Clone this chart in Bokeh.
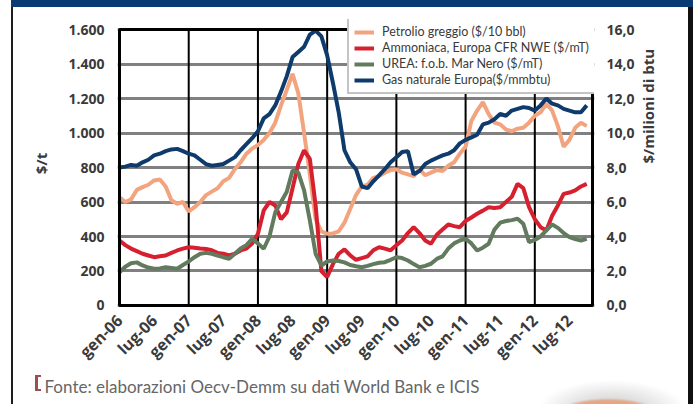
import numpy as np
from bokeh.plotting import figure
from bokeh.models import (Range1d, LinearAxis, FixedTicker, Legend, LegendItem, Title)
from bokeh.embed import file_html
from bokeh.resources import INLINE

# Monthly series, January 2006 .. October 2012
petrolio = [628, 600, 615, 670, 686, 700, 725, 730, 690, 610, 590, 600,
            545, 570, 600, 640, 660, 680, 720, 740, 790, 830, 880, 910,
            930, 960, 1000, 1060, 1160, 1250, 1343, 1230, 1000, 760, 500, 430,
            416, 418, 430, 480, 560, 640, 690, 700, 740, 750, 770, 785,
            790, 770, 760, 750, 790, 755, 770, 785, 780, 810, 830, 880,
            920, 1070, 1130, 1179, 1110, 1060, 1050, 1020, 1010, 1025, 1030, 1060,
            1100, 1120, 1170, 1130, 1040, 920, 960, 1030, 1060, 1040]
ammoniaca = [377, 350, 330, 315, 300, 290, 280, 285, 290, 305, 319, 330,
             338, 335, 330, 328, 320, 305, 300, 290, 300, 319, 330, 360,
             416, 551, 600, 580, 500, 540, 680, 820, 900, 850, 580, 200,
             165, 240, 300, 325, 290, 265, 275, 285, 320, 338, 330, 320,
             350, 377, 420, 454, 420, 377, 358, 410, 440, 470, 460, 454,
             490, 510, 532, 550, 570, 565, 570, 600, 630, 705, 680, 570,
             500, 454, 435, 520, 580, 647, 655, 667, 690, 705]
urea = [193, 225, 245, 250, 232, 220, 213, 215, 222, 218, 213, 235,
        255, 280, 300, 305, 300, 290, 280, 271, 300, 330, 350, 387,
        360, 329, 400, 540, 600, 660, 783, 770, 667, 493, 300, 232,
        255, 261, 258, 250, 235, 228, 222, 230, 240, 248, 251, 265,
        280, 275, 261, 240, 222, 230, 242, 270, 285, 330, 360, 377,
        387, 360, 319, 335, 358, 440, 480, 490, 495, 503, 474, 367,
        380, 400, 435, 470, 450, 420, 396, 385, 377, 387]
gas = [8.00, 8.05, 8.15, 8.10, 8.30, 8.45, 8.70, 8.80, 8.95, 9.05, 9.08, 8.95,
       8.80, 8.70, 8.45, 8.20, 8.10, 8.15, 8.20, 8.40, 8.60, 9.00, 9.35, 9.70,
       10.10, 10.85, 11.10, 11.60, 12.40, 13.30, 14.40, 14.70, 15.00, 15.70, 15.94, 15.60,
       14.50, 12.90, 11.20, 9.00, 8.30, 7.90, 6.90, 6.80, 7.20, 7.55, 7.90, 8.30,
       8.60, 8.90, 8.95, 7.60, 7.80, 8.20, 8.40, 8.55, 8.70, 8.80, 9.00, 9.40,
       9.60, 9.75, 9.90, 10.50, 10.60, 10.80, 11.10, 11.00, 11.30, 11.40, 11.50, 11.45,
       11.30, 11.60, 12.00, 11.70, 11.60, 11.40, 11.30, 11.20, 11.20, 11.60]
mesi = list(range(len(gas)))

tick_mesi = list(range(0, 79, 6))
tick_etichette = ["gen-06", "lug-06", "gen-07", "lug-07", "gen-08", "lug-08", "gen-09",
                  "lug-09", "gen-10", "lug-10", "gen-11", "lug-11", "gen-12", "lug-12"]
sinistra_ticks = [0, 200, 400, 600, 800, 1000, 1200, 1400, 1600]
sinistra_etichette = ["0", "200", "400", "600", "800", "1.000", "1.200", "1.400", "1.600"]
destra_ticks = [0, 2, 4, 6, 8, 10, 12, 14, 16]
destra_etichette = ["0,0", "2,0", "4,0", "6,0", "8,0", "10,0", "12,0", "14,0", "16,0"]

serie_nomi = ["Petrolio greggio ($/10 bbl)", "Ammoniaca, Europa CFR NWE ($/mT)",
              "UREA: f.o.b. Mar Nero ($/mT)", "Gas naturale Europa($/mmbtu)"]
colori = ["#f2a47e", "#d7202f", "#627a5e", "#0e3b6c"]

FONT = "Open Sans"
TXT = "#3a3a3a"

# chart box spans months 0..82 and 0..1600 $/t; a little room is left above
# the box so the legend can sit across its top edge
X0, X1 = 0, 82
Y0, Y1 = 0, 1600
pad_x = 0.347
pad_lo, pad_hi = 11.6, 58.0

p = figure(width=693, height=404, output_backend="svg", toolbar_location=None,
           x_range=Range1d(X0 - pad_x, X1 + pad_x),
           y_range=Range1d(Y0 - pad_lo, Y1 + pad_hi),
           min_border_left=117, min_border_right=99, min_border_top=19,
           min_border_bottom=97)
p.extra_y_ranges = {"gas": Range1d((Y0 - pad_lo) / 100, (Y1 + pad_hi) / 100)}

p.outline_line_color = None
p.background_fill_color = "white"
p.border_fill_color = None

# page furniture painted behind the transparent canvas
sfondo = ", ".join([
    "linear-gradient(#0a3a73, #0a3a73) 11px 0px / 682px 7px no-repeat",
    "linear-gradient(#1c1c1c, #1c1c1c) 11px 7px / 2px 397px no-repeat",
    "linear-gradient(#111111, #111111) 688px 7px / 5px 397px no-repeat",
    "linear-gradient(#9b4f55, #9b4f55) 35px 375px / 3px 16px no-repeat",
    "linear-gradient(#9b4f55, #9b4f55) 35px 375px / 6px 2px no-repeat",
    "linear-gradient(#9b4f55, #9b4f55) 35px 389px / 6px 2px no-repeat",
    "radial-gradient(ellipse 48px 13px at 608px 411px, #e19f7d 0%, #e6a888 80%, rgba(230,168,136,0) 100%) 0px 0px / 693px 404px no-repeat",
    "radial-gradient(ellipse 74px 30px at 612px 410px, rgba(0,0,0,0.22) 0%, rgba(0,0,0,0.10) 55%, rgba(0,0,0,0) 100%) 0px 0px / 693px 404px no-repeat",
    "#ffffff",
])
p.styles = {"background": sfondo}

# horizontal grid every 200
p.xgrid.grid_line_color = None
p.ygrid.ticker = FixedTicker(ticks=sinistra_ticks)
p.ygrid.grid_line_color = "#808080"
p.ygrid.grid_line_width = 3

# yearly vertical rules
anni = list(range(12, 80, 12))
p.segment(x0=anni, y0=[Y0] * len(anni), x1=anni, y1=[Y1] * len(anni),
          line_color="black", line_width=2)

# x axis
xa = p.xaxis[0]
xa.ticker = FixedTicker(ticks=tick_mesi)
xa.major_label_overrides = {m: s for m, s in zip(tick_mesi, tick_etichette)}
xa.major_label_orientation = np.pi / 4
xa.axis_line_color = None
xa.major_tick_line_color = None
xa.minor_tick_line_color = None
xa.major_label_text_font = FONT
xa.major_label_text_font_style = "bold"
xa.major_label_text_font_size = "16px"
xa.major_label_text_color = TXT
xa.major_label_standoff = 4

# left axis ($/t) and right axis ($/mmbtu)
ya = p.yaxis[0]
ya.ticker = FixedTicker(ticks=sinistra_ticks)
ya.major_label_overrides = {t: s for t, s in zip(sinistra_ticks, sinistra_etichette)}
ya.axis_label = "$/t"

destra = LinearAxis(y_range_name="gas", ticker=FixedTicker(ticks=destra_ticks),
                    axis_label="$/milioni di btu")
destra.major_label_overrides = {t: s for t, s in zip(destra_ticks, destra_etichette)}
p.add_layout(destra, "right")

for ax in (ya, destra):
    ax.axis_line_color = None
    ax.major_tick_line_color = None
    ax.minor_tick_line_color = None
    ax.major_label_text_font = FONT
    ax.major_label_text_font_style = "bold"
    ax.major_label_text_font_size = "14px"
    ax.major_label_text_color = TXT
    ax.axis_label_text_font = FONT
    ax.axis_label_text_font_style = "bold"
    ax.axis_label_text_font_size = "15px"
    ax.axis_label_text_color = TXT
ya.major_label_standoff = 7
destra.major_label_standoff = 6
ya.axis_label_standoff = 14
destra.axis_label_standoff = 10
destra.axis_label_orientation = np.pi / 2

# series
r_pet = p.line(mesi, petrolio, line_color=colori[0], line_width=4)
r_amm = p.line(mesi, ammoniaca, line_color=colori[1], line_width=4)
r_ure = p.line(mesi, urea, line_color=colori[2], line_width=4)
r_gas = p.line(mesi, gas, line_color=colori[3], line_width=4, y_range_name="gas")

# chart box
p.quad(left=[X0], right=[X1], bottom=[Y0], top=[Y1], fill_color=None,
       line_color="black", line_width=3)

legend = Legend(items=[LegendItem(label=n, renderers=[r]) for n, r in
                       zip(serie_nomi, [r_pet, r_amm, r_ure, r_gas])],
                location=(230, 213), margin=0, padding=5, spacing=1,
                glyph_width=20, glyph_height=14, label_height=14, label_standoff=8,
                label_text_font="Lato", label_text_font_size="12.5px",
                label_text_color=TXT, border_line_color="#8a8a8a",
                border_line_width=2, background_fill_color="white",
                background_fill_alpha=1.0)
p.add_layout(legend, "center")

# source note under the dates
p.add_layout(Title(text="Fonte: elaborazioni Oecv-Demm su dati World Bank e ICIS",
                   align="left", offset=-73, text_font="Lato",
                   text_font_size="17px", text_font_style="normal",
                   text_color="#666666", standoff=0), "below")

open("out.html", "w").write(file_html(p, INLINE))
